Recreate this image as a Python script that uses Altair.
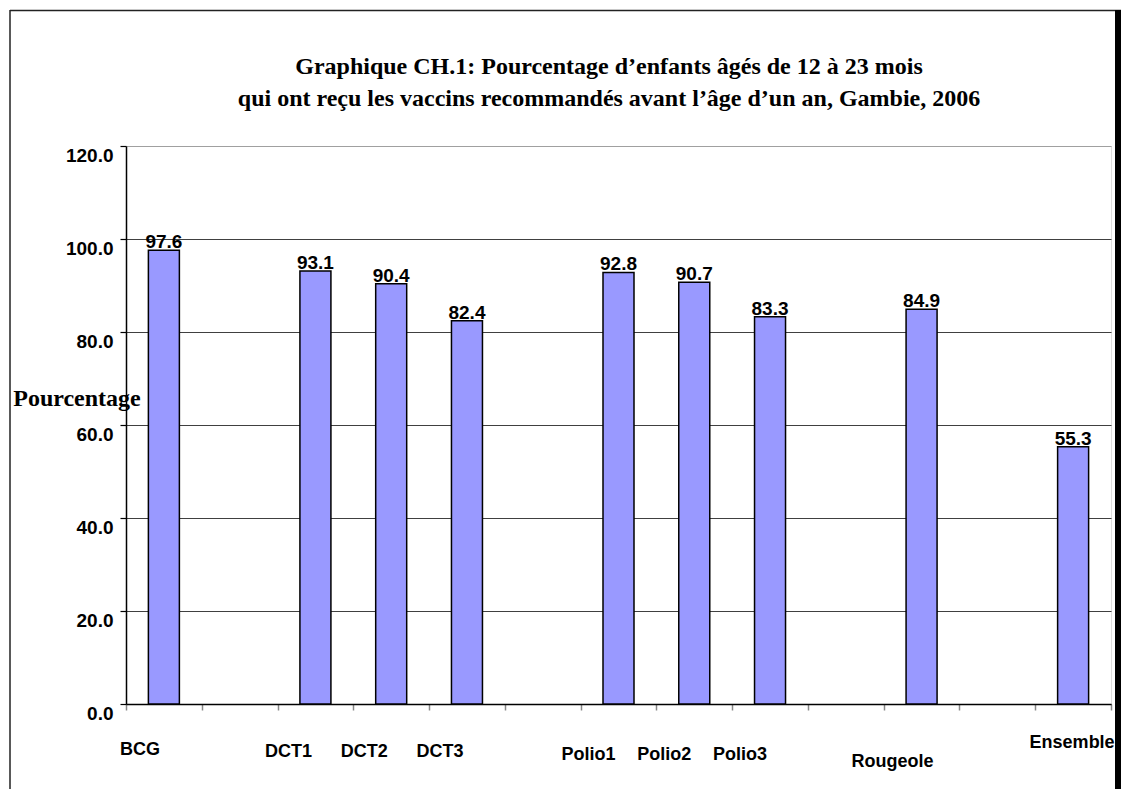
import altair as alt
import pandas as pd

CATEGORIES = ["BCG", " ", "DCT1", "DCT2", "DCT3", "  ", "Polio1", "Polio2", "Polio3",
              "   ", "Rougeole", "    ", "Ensemble"]
VALUES = [97.6, None, 93.1, 90.4, 82.4, None, 92.8, 90.7, 83.3, None, 84.9, None, 55.3]
TITLE_LINES = [
    "Graphique CH.1: Pourcentage d\u2019enfants âgés de 12 à 23 mois",
    "qui ont reçu les vaccins recommandés avant l\u2019âge d\u2019un an, Gambie, 2006",
]
Y_TITLE = "Pourcentage"
Y_TICKS = [0, 20, 40, 60, 80, 100, 120]

# placement of category names below the axis, as in the source
LABEL_GROUPS = [
    (["BCG"], -24, 604),
    (["DCT1", "DCT2", "DCT3"], -27, 606),
    (["Polio1", "Polio2", "Polio3"], -30, 609),
    (["Rougeole"], -29, 616),
    (["Ensemble"], -1, 597),
]

W, H = 985, 558

df = pd.DataFrame({"cat": CATEGORIES, "value": VALUES})

x_enc = alt.X(
    "cat:N",
    sort=CATEGORIES,
    scale=alt.Scale(domain=CATEGORIES, paddingInner=0, paddingOuter=0),
    axis=alt.Axis(labels=False, title=None, tickBand="extent", tickColor="#888888",
                  tickSize=6, tickWidth=1.5, domainColor="black", domainWidth=1.5, grid=False),
)
y_enc = alt.Y(
    "value:Q",
    scale=alt.Scale(domain=[0, 120], nice=False, zero=True),
    axis=alt.Axis(
        values=Y_TICKS, format=".1f", title=Y_TITLE,
        titleAngle=0, titleX=-49.5, titleY=259, titleAlign="center",
        titleBaseline="alphabetic", titleFont="Liberation Serif", titleFontSize=24,
        titleFontWeight="bold", titleColor="black",
        labelFont="Liberation Sans", labelFontSize=19, labelFontWeight="bold",
        labelColor="black", labelBaseline="top", labelPadding=7,
        tickColor="black", tickSize=6, tickWidth=1.2,
        domainColor="black", domainWidth=1.5,
        grid=True,
        gridColor={"condition": {"test": "datum.value == 120", "value": "#a0a0a0"},
                   "value": "#404040"},
        gridWidth=1.2,
    ),
)

base = alt.Chart(df)

bars = base.mark_bar(size=31, color="#9999FF", stroke="black", strokeWidth=1.5).encode(
    x=x_enc, y=y_enc
)

values_text = base.transform_filter("isValid(datum.value)").mark_text(
    font="Liberation Sans", fontSize=19, fontWeight="bold", color="black",
    baseline="alphabetic", dy=-2,
).encode(x=x_enc, y=y_enc, text=alt.Text("value:Q", format=".1f"))

label_layers = []
for names, dx, ypix in LABEL_GROUPS:
    label_layers.append(
        base.transform_filter(alt.FieldOneOfPredicate(field="cat", oneOf=names))
        .mark_text(font="Liberation Sans", fontSize=18, fontWeight="bold", color="black",
                   baseline="middle", align="center", dx=dx)
        .encode(x=x_enc, y=alt.value(ypix), text="cat:N")
    )

one = alt.InlineData(values=[{}])

title_text = alt.Chart(one).mark_text(
    text=TITLE_LINES, font="Liberation Serif", fontSize=24, fontWeight="bold",
    color="black", align="center", baseline="alphabetic", lineHeight=32,
).encode(x=alt.value(483), y=alt.value(-72))

frame_left = alt.Chart(one).mark_rule(color="#222222", strokeWidth=1.5).encode(
    x=alt.value(-116), y=alt.value(-136), y2=alt.value(720)
)
frame_top = alt.Chart(one).mark_rule(color="#222222", strokeWidth=1.5).encode(
    x=alt.value(-116), x2=alt.value(1000), y=alt.value(-135.5)
)
frame_right = alt.Chart(one).mark_rule(color="black", strokeWidth=6).encode(
    x=alt.value(992), y=alt.value(-136), y2=alt.value(720)
)

chart = alt.layer(
    bars, values_text, *label_layers, title_text, frame_left, frame_top, frame_right
).properties(
    width=W, height=H,
    autosize=alt.AutoSizeParams(type="none"),
    padding={"left": 118, "top": 138, "right": 10, "bottom": 85},
).configure_view(
    stroke="#a0a0a0", strokeWidth=1.5
).configure(background="white")

chart.save("out.html", embed_options={"renderer": "svg", "actions": False})
